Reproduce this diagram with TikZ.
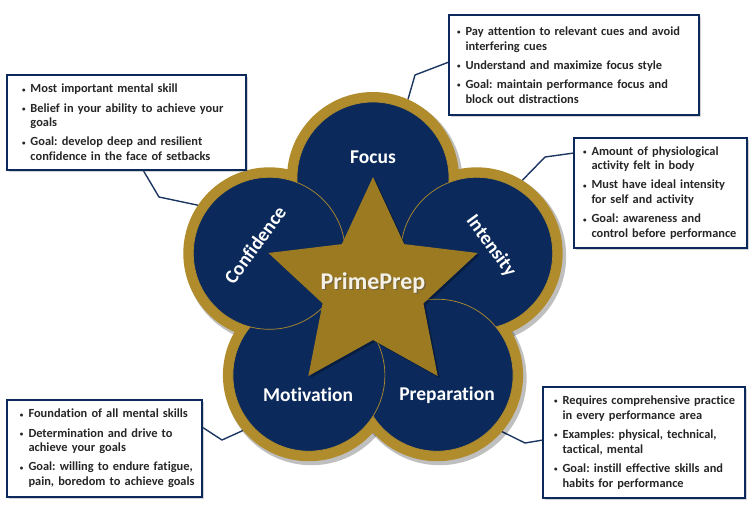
\documentclass[tikz,border=0pt]{standalone}
\usepackage{fontspec}
\setmainfont{Carlito}[Ligatures={NoCommon}]
\usetikzlibrary{shadows}
\definecolor{navy}{HTML}{0B2A5B}
\definecolor{rimgold}{HTML}{B08C2C}
\definecolor{stargold}{HTML}{9C7A22}
\definecolor{linknavy}{HTML}{1C3561}
\definecolor{cream}{HTML}{F5F1E6}
\pgfdeclarelayer{edgelayer}
\pgfdeclarelayer{nodelayer}
\pgfsetlayers{edgelayer,nodelayer,main}
\tikzstyle{none}=[inner sep=0pt]
\tikzstyle{rim}=[circle,fill=rimgold,minimum size=172pt,inner sep=0pt,outer sep=0pt]
\tikzstyle{petal}=[circle,fill=navy,draw=rimgold,line width=0.7pt,minimum size=152pt,inner sep=0pt]
\tikzstyle{petal_label}=[inner sep=0pt,text=white,font=\fontsize{19.5}{22}\selectfont\bfseries]
\tikzstyle{info_box}=[rectangle,draw=navy,line width=1.8pt,fill=white,anchor=north west,inner sep=0pt,outer sep=0pt,text=black!85,font=\fontsize{12.4}{14.8}\selectfont\bfseries,drop shadow={shadow xshift=1.5pt,shadow yshift=-1.5pt,opacity=0.35}]
\tikzstyle{link}=[draw=linknavy,line width=1.4pt,line join=round]
\newcommand{\bitem}[1]{\hangindent=8.5pt\hangafter=1\noindent\makebox[8.5pt][l]{\raisebox{0.1ex}{\scriptsize\textbullet}}#1\par}
\newcommand{\boxsetup}[1]{\raggedright\leftskip=#1\parskip=4.3pt\frenchspacing}

\begin{document}
\begin{tikzpicture}[x=1pt,y=-1pt]
	\useasboundingbox (0,0) rectangle (753,507);
	\begin{pgfonlayer}{nodelayer}
		% rim and shadow
		\foreach \p in {(373,178),(476.7,253.3),(437.1,375.2),(308.9,375.2),(269.3,253.3)}
			\fill [black,opacity=0.25] \p ++(2.5,3) circle [radius=87pt];
		\node [style=rim] (rimfocus) at (373,178) {};
		\node [style=rim] (rimint) at (476.7,253.3) {};
		\node [style=rim] (rimprep) at (437.1,375.2) {};
		\node [style=rim] (rimmot) at (308.9,375.2) {};
		\node [style=rim] (rimconf) at (269.3,253.3) {};
		% petals
		\node [style=petal] (focus) at (373,178) {};
		\node [style=petal] (int) at (476.7,253.3) {};
		\node [style=petal] (prep) at (437.1,375.2) {};
		\node [style=petal] (mot) at (308.9,375.2) {};
		\node [style=petal] (conf) at (269.3,253.3) {};
		% star
		\begin{scope}[shift={(373,287)}]
			\fill [black,opacity=0.3,shift={(2,2)}] (-90:110) \foreach \k in {1,...,9} {-- ({-90+36*\k}:{ifthenelse(mod(\k,2)==0,110,53)})} -- cycle;
			\fill [stargold] (-90:110) \foreach \k in {1,...,9} {-- ({-90+36*\k}:{ifthenelse(mod(\k,2)==0,110,53)})} -- cycle;
		\end{scope}
		\node [style={petal_label}] (lfocus) at (373,157) {Focus};
		\node [style={petal_label},rotate=54] (lconf) at (255,245) {Confidence};
		\node [style={petal_label},rotate=-54] (lint) at (491,246) {Intensity};
		\node [style={petal_label}] (lmot) at (308,395) {Motivation};
		\node [style={petal_label}] (lprep) at (447,395) {Preparation};
		\node [style={petal_label},text=black!70,opacity=0.5,font=\fontsize{24}{26}\selectfont\bfseries] (lstarshadow) at (374.3,284.3) {PrimePrep};
		\node [style={petal_label},text=cream,font=\fontsize{24}{26}\selectfont\bfseries] (lstar) at (373,283) {PrimePrep};
		% boxes
		\node [style={info_box},minimum width=239pt,minimum height=95pt,text width=239pt] (boxconf) at (7,75) {\boxsetup{15pt}%
			\bitem{Most important mental skill}
			\bitem{Belief in your ability to achieve your\newline goals}
			\bitem{Goal: develop deep and resilient\newline confidence in the face of setbacks}};
		\node [style={info_box},minimum width=250pt,minimum height=100pt,text width=250pt] (boxfocus) at (449,15) {\boxsetup{8pt}%
			\bitem{Pay attention to relevant cues and avoid\newline interfering cues}
			\bitem{Understand and maximize focus style}
			\bitem{Goal: maintain performance focus and\newline block out distractions}};
		\node [style={info_box},minimum width=173pt,minimum height=110pt,text width=173pt] (boxint) at (574,138) {\boxsetup{9pt}%
			\bitem{Amount of physiological\newline activity felt in body}
			\bitem{Must have ideal intensity\newline for self and activity}
			\bitem{Goal: awareness and\newline control before performance}};
		\node [style={info_box},minimum width=195pt,minimum height=97pt,text width=195pt] (boxmot) at (7,400) {\boxsetup{13pt}%
			\bitem{Foundation of all  mental skills}
			\bitem{Determination and drive to\newline achieve your goals}
			\bitem{Goal: willing to endure fatigue,\newline pain, boredom to achieve goals}};
		\node [style={info_box},minimum width=202pt,minimum height=111pt,text width=202pt] (boxprep) at (543,387) {\boxsetup{11pt}%
			\bitem{Requires comprehensive practice\newline in every performance area}
			\bitem{Examples: physical, technical,\newline tactical, mental}
			\bitem{Goal: instill effective skills and\newline habits for performance}};
		\coordinate (bendconf) at (159,197);
		\coordinate (bendfocus) at (415,75);
		\coordinate (bendint) at (545,157);
		\coordinate (bendmot) at (222,440);
		\coordinate (bendprep) at (525,443);
	\end{pgfonlayer}
	\begin{pgfonlayer}{edgelayer}
		\draw [style=link] ([xshift=136pt]boxconf.south west) -- (bendconf) -- (rimconf.146);
		\draw [style=link] ([yshift=-47pt]boxfocus.north west) -- (bendfocus) -- (rimfocus.66);
		\draw [style=link] ([yshift=-15pt]boxint.north west) -- (bendint) -- (rimint.58);
		\draw [style=link] ([yshift=-27pt]boxmot.north east) -- (bendmot) -- (rimmot.220);
		\draw [style=link] ([yshift=-53pt]boxprep.north west) -- (bendprep) -- (rimprep.-41);
	\end{pgfonlayer}
\end{tikzpicture}
\end{document}
